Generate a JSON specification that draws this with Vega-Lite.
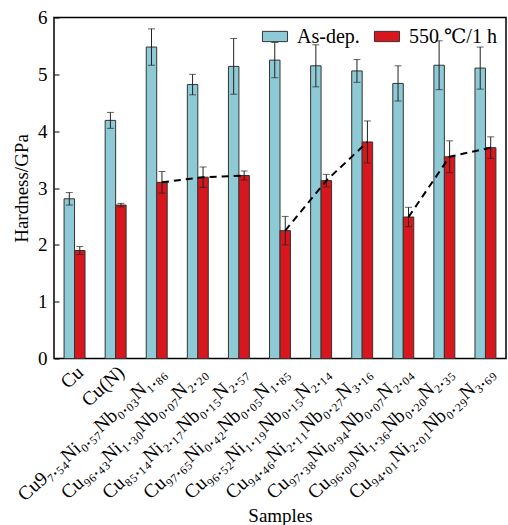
{
  "$schema": "https://vega.github.io/schema/vega-lite/v6.json",
  "autosize": {"type": "none"},
  "width": 452,
  "height": 341,
  "padding": {"left": 54, "top": 17.5, "right": 2, "bottom": 166.5},
  "config": {
    "font": "Liberation Serif, Times New Roman, DejaVu Serif, serif",
    "view": {"stroke": "black", "strokeWidth": 1.5},
    "axis": {"labelFont": "Liberation Serif, Times New Roman, DejaVu Serif, serif", "titleFont": "Liberation Serif, Times New Roman, DejaVu Serif, serif", "labelColor": "black", "titleColor": "black", "titleFontWeight": "normal", "domain": false, "tickColor": "black", "grid": false},
    "legend": {"labelFont": "Liberation Serif, Times New Roman, DejaVu Serif, serif"}
  },
  "datasets": {
    "bars": [
      {"sample": "Cu", "cond": "As-dep.", "value": 2.81, "err": 0.11},
      {"sample": "Cu", "cond": "550 ℃/1 h", "value": 1.90, "err": 0.07},
      {"sample": "Cu(N)", "cond": "As-dep.", "value": 4.19, "err": 0.14},
      {"sample": "Cu(N)", "cond": "550 ℃/1 h", "value": 2.70, "err": 0.03},
      {"sample": "Cu9₇.₅₄Ni₀.₅₇Nb₀.₀₃N₁.₈₆", "cond": "As-dep.", "value": 5.48, "err": 0.32},
      {"sample": "Cu9₇.₅₄Ni₀.₅₇Nb₀.₀₃N₁.₈₆", "cond": "550 ℃/1 h", "value": 3.10, "err": 0.19},
      {"sample": "Cu₉₆.₄₃Ni₁.₃₀Nb₀.₀₇N₂.₂₀", "cond": "As-dep.", "value": 4.82, "err": 0.18},
      {"sample": "Cu₉₆.₄₃Ni₁.₃₀Nb₀.₀₇N₂.₂₀", "cond": "550 ℃/1 h", "value": 3.19, "err": 0.18},
      {"sample": "Cu₈₅.₁₄Ni₂.₁₇Nb₀.₁₅N₂.₅₇", "cond": "As-dep.", "value": 5.14, "err": 0.49},
      {"sample": "Cu₈₅.₁₄Ni₂.₁₇Nb₀.₁₅N₂.₅₇", "cond": "550 ℃/1 h", "value": 3.22, "err": 0.08},
      {"sample": "Cu₉₇.₆₅Ni₀.₄₂Nb₀.₀₅N₁.₈₅", "cond": "As-dep.", "value": 5.25, "err": 0.31},
      {"sample": "Cu₉₇.₆₅Ni₀.₄₂Nb₀.₀₅N₁.₈₅", "cond": "550 ℃/1 h", "value": 2.25, "err": 0.25},
      {"sample": "Cu₉₆.₅₂Ni₁.₁₉Nb₀.₁₅N₂.₁₄", "cond": "As-dep.", "value": 5.15, "err": 0.37},
      {"sample": "Cu₉₆.₅₂Ni₁.₁₉Nb₀.₁₅N₂.₁₄", "cond": "550 ℃/1 h", "value": 3.13, "err": 0.11},
      {"sample": "Cu₉₄.₄₆Ni₂.₁₁Nb₀.₂₇N₃.₁₆", "cond": "As-dep.", "value": 5.06, "err": 0.20},
      {"sample": "Cu₉₄.₄₆Ni₂.₁₁Nb₀.₂₇N₃.₁₆", "cond": "550 ℃/1 h", "value": 3.81, "err": 0.37},
      {"sample": "Cu₉₇.₃₈Ni₀.₉₄Nb₀.₀₇N₂.₀₄", "cond": "As-dep.", "value": 4.84, "err": 0.31},
      {"sample": "Cu₉₇.₃₈Ni₀.₉₄Nb₀.₀₇N₂.₀₄", "cond": "550 ℃/1 h", "value": 2.49, "err": 0.17},
      {"sample": "Cu₉₆.₀₉Ni₁.₃₆Nb₀.₂₀N₂.₃₅", "cond": "As-dep.", "value": 5.16, "err": 0.43},
      {"sample": "Cu₉₆.₀₉Ni₁.₃₆Nb₀.₂₀N₂.₃₅", "cond": "550 ℃/1 h", "value": 3.55, "err": 0.28},
      {"sample": "Cu₉₄.₀₁Ni₂.₀₁Nb₀.₂₉N₃.₆₉", "cond": "As-dep.", "value": 5.11, "err": 0.37},
      {"sample": "Cu₉₄.₀₁Ni₂.₀₁Nb₀.₂₉N₃.₆₉", "cond": "550 ℃/1 h", "value": 3.71, "err": 0.19}
    ],
    "lines": [
      {"sample": "Cu9₇.₅₄Ni₀.₅₇Nb₀.₀₃N₁.₈₆", "cond": "550 ℃/1 h", "value": 3.10, "grp": "a"},
      {"sample": "Cu₉₆.₄₃Ni₁.₃₀Nb₀.₀₇N₂.₂₀", "cond": "550 ℃/1 h", "value": 3.19, "grp": "a"},
      {"sample": "Cu₈₅.₁₄Ni₂.₁₇Nb₀.₁₅N₂.₅₇", "cond": "550 ℃/1 h", "value": 3.22, "grp": "a"},
      {"sample": "Cu₉₇.₆₅Ni₀.₄₂Nb₀.₀₅N₁.₈₅", "cond": "550 ℃/1 h", "value": 2.25, "grp": "b"},
      {"sample": "Cu₉₆.₅₂Ni₁.₁₉Nb₀.₁₅N₂.₁₄", "cond": "550 ℃/1 h", "value": 3.13, "grp": "b"},
      {"sample": "Cu₉₄.₄₆Ni₂.₁₁Nb₀.₂₇N₃.₁₆", "cond": "550 ℃/1 h", "value": 3.81, "grp": "b"},
      {"sample": "Cu₉₇.₃₈Ni₀.₉₄Nb₀.₀₇N₂.₀₄", "cond": "550 ℃/1 h", "value": 2.49, "grp": "c"},
      {"sample": "Cu₉₆.₀₉Ni₁.₃₆Nb₀.₂₀N₂.₃₅", "cond": "550 ℃/1 h", "value": 3.55, "grp": "c"},
      {"sample": "Cu₉₄.₀₁Ni₂.₀₁Nb₀.₂₉N₃.₆₉", "cond": "550 ℃/1 h", "value": 3.71, "grp": "c"}
    ]
  },
  "encoding": {
    "x": {
      "field": "sample", "type": "nominal", "sort": null,
      "scale": {"paddingInner": 0.49, "paddingOuter": 0.245},
      "axis": {"title": "Samples", "titleFontSize": 19, "labelFontSize": 19.5, "labelAngle": -42, "ticks": false, "labelPadding": 4, "titlePadding": 2, "labelLimit": 300}
    },
    "xOffset": {"field": "cond", "type": "nominal", "sort": ["As-dep.", "550 ℃/1 h"], "scale": {"paddingInner": 0, "paddingOuter": 0}},
    "y": {
      "field": "value", "type": "quantitative",
      "scale": {"domain": [0, 6], "nice": false},
      "axis": {"title": "Hardness/GPa", "titleFontSize": 19, "labelFontSize": 19, "values": [0, 1, 2, 3, 4, 5, 6], "tickSize": -5, "labelPadding": 12, "titlePadding": 6}
    }
  },
  "layer": [
    {
      "data": {"name": "bars"},
      "mark": {"type": "bar", "stroke": "#333333", "strokeWidth": 1},
      "encoding": {
        "fill": {
          "field": "cond", "type": "nominal",
          "scale": {"domain": ["As-dep.", "550 ℃/1 h"], "range": ["#8ECAD6", "#D7161D"]},
          "legend": {
            "title": null, "orient": "top-right", "direction": "horizontal", "offset": 9,
            "labelFontSize": 20, "labelColor": "black",
            "symbolType": "M-2.2,-0.9H2.2V0.9H-2.2Z", "symbolSize": 130, "symbolStrokeColor": "#333333", "symbolStrokeWidth": 1,
            "columnPadding": 12, "labelOffset": 12, "padding": 0
          }
        }
      }
    },
    {
      "data": {"name": "bars"},
      "transform": [
        {"calculate": "datum.value - datum.err", "as": "lo"},
        {"calculate": "datum.value + datum.err", "as": "hi"}
      ],
      "mark": {"type": "rule", "color": "#222222", "strokeWidth": 1},
      "encoding": {"y": {"field": "lo", "type": "quantitative"}, "y2": {"field": "hi"}}
    },
    {
      "data": {"name": "bars"},
      "transform": [{"calculate": "datum.value + datum.err", "as": "hi"}],
      "mark": {"type": "tick", "color": "#222222", "size": 7, "thickness": 1, "orient": "horizontal"},
      "encoding": {"y": {"field": "hi", "type": "quantitative"}}
    },
    {
      "data": {"name": "bars"},
      "transform": [{"calculate": "datum.value - datum.err", "as": "lo"}],
      "mark": {"type": "tick", "color": "#222222", "size": 7, "thickness": 1, "orient": "horizontal"},
      "encoding": {"y": {"field": "lo", "type": "quantitative"}}
    },
    {
      "data": {"name": "lines"},
      "mark": {"type": "line", "color": "black", "strokeWidth": 2, "strokeDash": [7, 5]},
      "encoding": {"detail": {"field": "grp"}}
    }
  ]
}
